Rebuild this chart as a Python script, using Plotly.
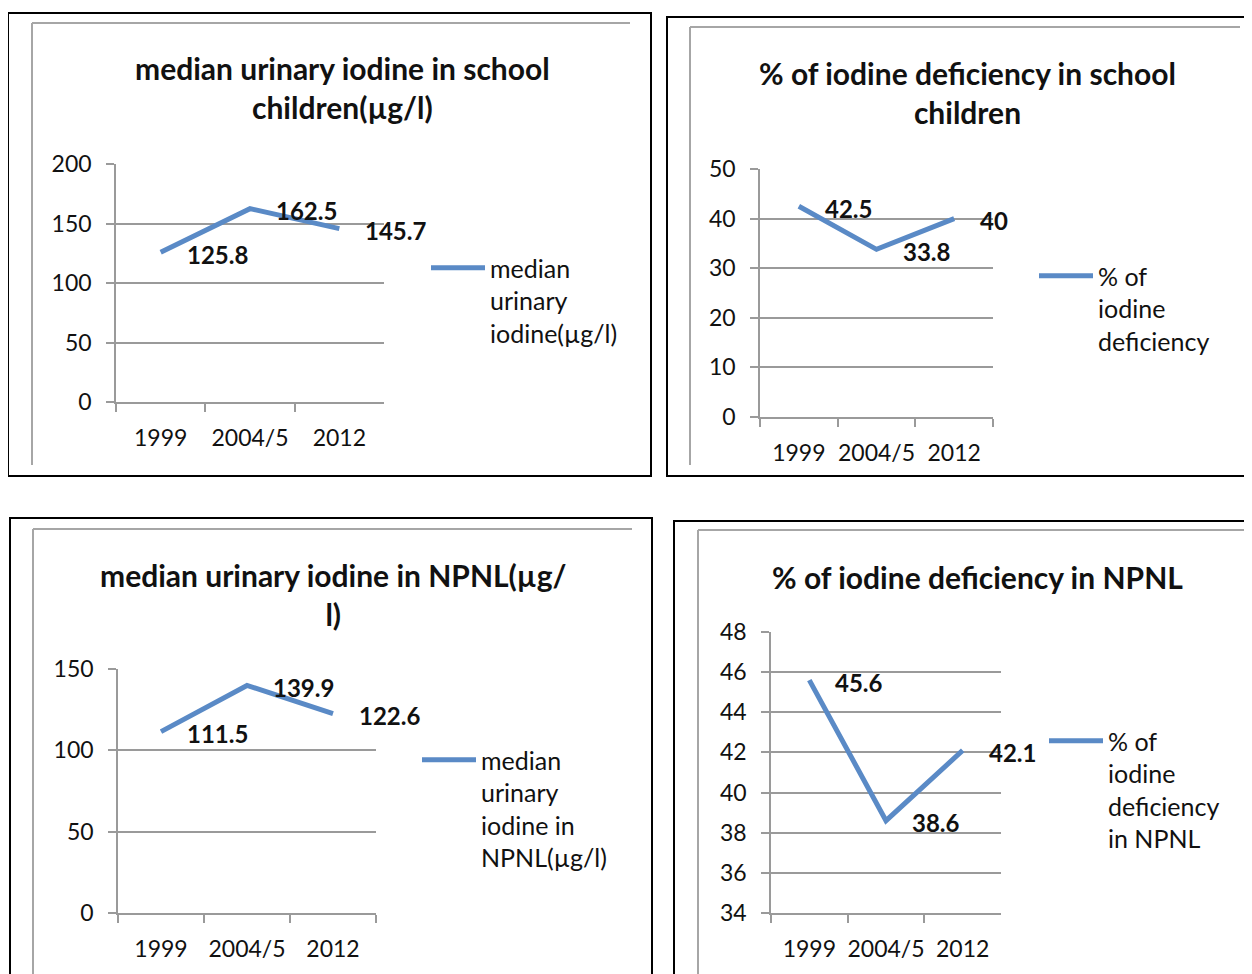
import plotly.graph_objects as go

# The page body adds an 8px margin, so the figure is drawn 8px smaller and
# all reference-pixel positions are shifted by that offset.
OFF = 8
W, H = 1252 - OFF, 974 - OFF

years = ["1999", "2004/5", "2012"]

mui_school = [125.8, 162.5, 145.7]
def_school = [42.5, 33.8, 40]
mui_npnl = [111.5, 139.9, 122.6]
def_npnl = [45.6, 38.6, 42.1]

titles = [
    "median urinary iodine in school<br>children(µg/l)",
    "% of iodine deficiency in school<br>children",
    "median urinary iodine in NPNL(µg/<br>l)",
    "% of iodine deficiency in NPNL",
]
series_names = [
    "median<br>urinary<br>iodine(µg/l)",
    "% of<br>iodine<br>deficiency",
    "median<br>urinary<br>iodine in<br>NPNL(µg/l)",
    "% of<br>iodine<br>deficiency<br>in NPNL",
]
y_ranges = [(0, 200, 50), (0, 50, 10), (0, 150, 50), (34, 48, 2)]

FONT = "Lato, 'Open Sans', sans-serif"
LINE = "#5A8AC6"
GRID = "#9A9A9A"

def px(x):
    return (x - OFF) / W

def py(y):
    return 1 - (y - OFF) / H

# plot area pixel boxes (left, top, right, bottom) in reference pixels
boxes = [
    (116, 164, 384, 402),
    (760, 169, 993, 417),
    (118, 669, 376, 913),
    (771, 632, 1001, 913),
]
# legend positions (top-left) in reference pixels
legend_pos = [(426, 245), (1034, 253), (417, 737), (1044, 718)]
title_pos = [(343, 88), (967, 93), (333, 594), (977, 577)]

fig = go.Figure()
data = [mui_school, def_school, mui_npnl, def_npnl]

for i, vals in enumerate(data):
    n = i + 1
    xa = "x" if n == 1 else f"x{n}"
    ya = "y" if n == 1 else f"y{n}"
    lg = "legend" if n == 1 else f"legend{n}"
    fig.add_trace(go.Scatter(
        x=years, y=vals, mode="lines", name=series_names[i],
        line=dict(color=LINE, width=5),
        xaxis=xa, yaxis=ya, legend=lg, hoverinfo="x+y",
    ))
    l, t, r, b = boxes[i]
    lo, hi, dt = y_ranges[i]
    xkey = "xaxis" if n == 1 else f"xaxis{n}"
    ykey = "yaxis" if n == 1 else f"yaxis{n}"
    fig.update_layout(**{
        xkey: dict(
            domain=[px(l), px(r)], anchor=ya, type="category",
            range=[-0.5, 2.5], tickson="boundaries", tickangle=0,
            showgrid=False, showline=True, linecolor=GRID, linewidth=1.5,
            ticks="outside", ticklen=8, tickwidth=1.5, tickcolor=GRID,
            tickfont=dict(family=FONT, size=23, color="#111"),
            ticklabelstandoff=15, zeroline=False, automargin=False,
        ),
        ykey: dict(
            domain=[py(b), py(t)], anchor=xa, range=[lo, hi], dtick=dt,
            tick0=lo, showgrid=True, gridcolor=GRID, gridwidth=1.5,
            showline=True, linecolor=GRID, linewidth=1.5,
            ticks="outside", ticklen=8, tickwidth=1.5, tickcolor=GRID,
            tickfont=dict(family=FONT, size=23, color="#111"),
            ticklabelstandoff=10, zeroline=False, automargin=False,
        ),
        lg: dict(
            x=px(legend_pos[i][0]), y=py(legend_pos[i][1]),
            xanchor="left", yanchor="top", valign="top",
            font=dict(family=FONT, size=25, color="#111"),
            bgcolor="rgba(0,0,0,0)", borderwidth=0, itemwidth=54,
            tracegroupgap=0,
        ),
    })
    # data labels to the right of each point
    for j, v in enumerate(vals):
        fig.add_annotation(
            x=j, y=v, xref=xa, yref=ya, text=f"<b>{v:g}</b>",
            showarrow=False, xanchor="left", yanchor="middle",
            xshift=24, yshift=-2,
            font=dict(family=FONT, size=24, color="#111"),
        )
    # title
    fig.add_annotation(
        x=px(title_pos[i][0]), y=py(title_pos[i][1]), xref="paper", yref="paper",
        text=f"<b>{titles[i]}</b>", showarrow=False,
        xanchor="center", yanchor="middle",
        font=dict(family=FONT, size=30, color="#111"),
    )

shapes = []
def rect(x0, y0, x1, y1, color, w):
    shapes.append(dict(type="rect", xref="paper", yref="paper",
                       x0=px(x0), x1=px(x1), y0=py(y0), y1=py(y1),
                       line=dict(color=color, width=w), fillcolor="rgba(0,0,0,0)",
                       layer="below"))
def seg(x0, y0, x1, y1, color, w):
    shapes.append(dict(type="line", xref="paper", yref="paper",
                       x0=px(x0), x1=px(x1), y0=py(y0), y1=py(y1),
                       line=dict(color=color, width=w), layer="below"))

# outer black frames
rect(8, 13, 651, 476, "black", 2)
rect(667, 17, 1262, 476, "black", 2)
rect(10, 518, 652, 990, "black", 2)
rect(674, 521, 1262, 990, "black", 2)
# inner gray chart-area edges
G2 = "#A6A6A6"
seg(32, 23, 630, 23, G2, 2); seg(32, 23, 32, 465, G2, 2)
seg(690, 27, 1240, 27, G2, 2); seg(690, 27, 690, 465, G2, 2)
seg(33, 529, 632, 529, G2, 2); seg(33, 529, 33, 974, G2, 2)
seg(698, 530, 1252, 530, G2, 2); seg(698, 530, 698, 974, G2, 2)

fig.update_layout(
    template="none",
    width=W, height=H, margin=dict(l=0, r=0, t=0, b=0, autoexpand=False),
    paper_bgcolor="white", plot_bgcolor="rgba(0,0,0,0)",
    shapes=shapes, showlegend=True,
    font=dict(family=FONT, color="#111"),
)

fig.write_html("out.html")
